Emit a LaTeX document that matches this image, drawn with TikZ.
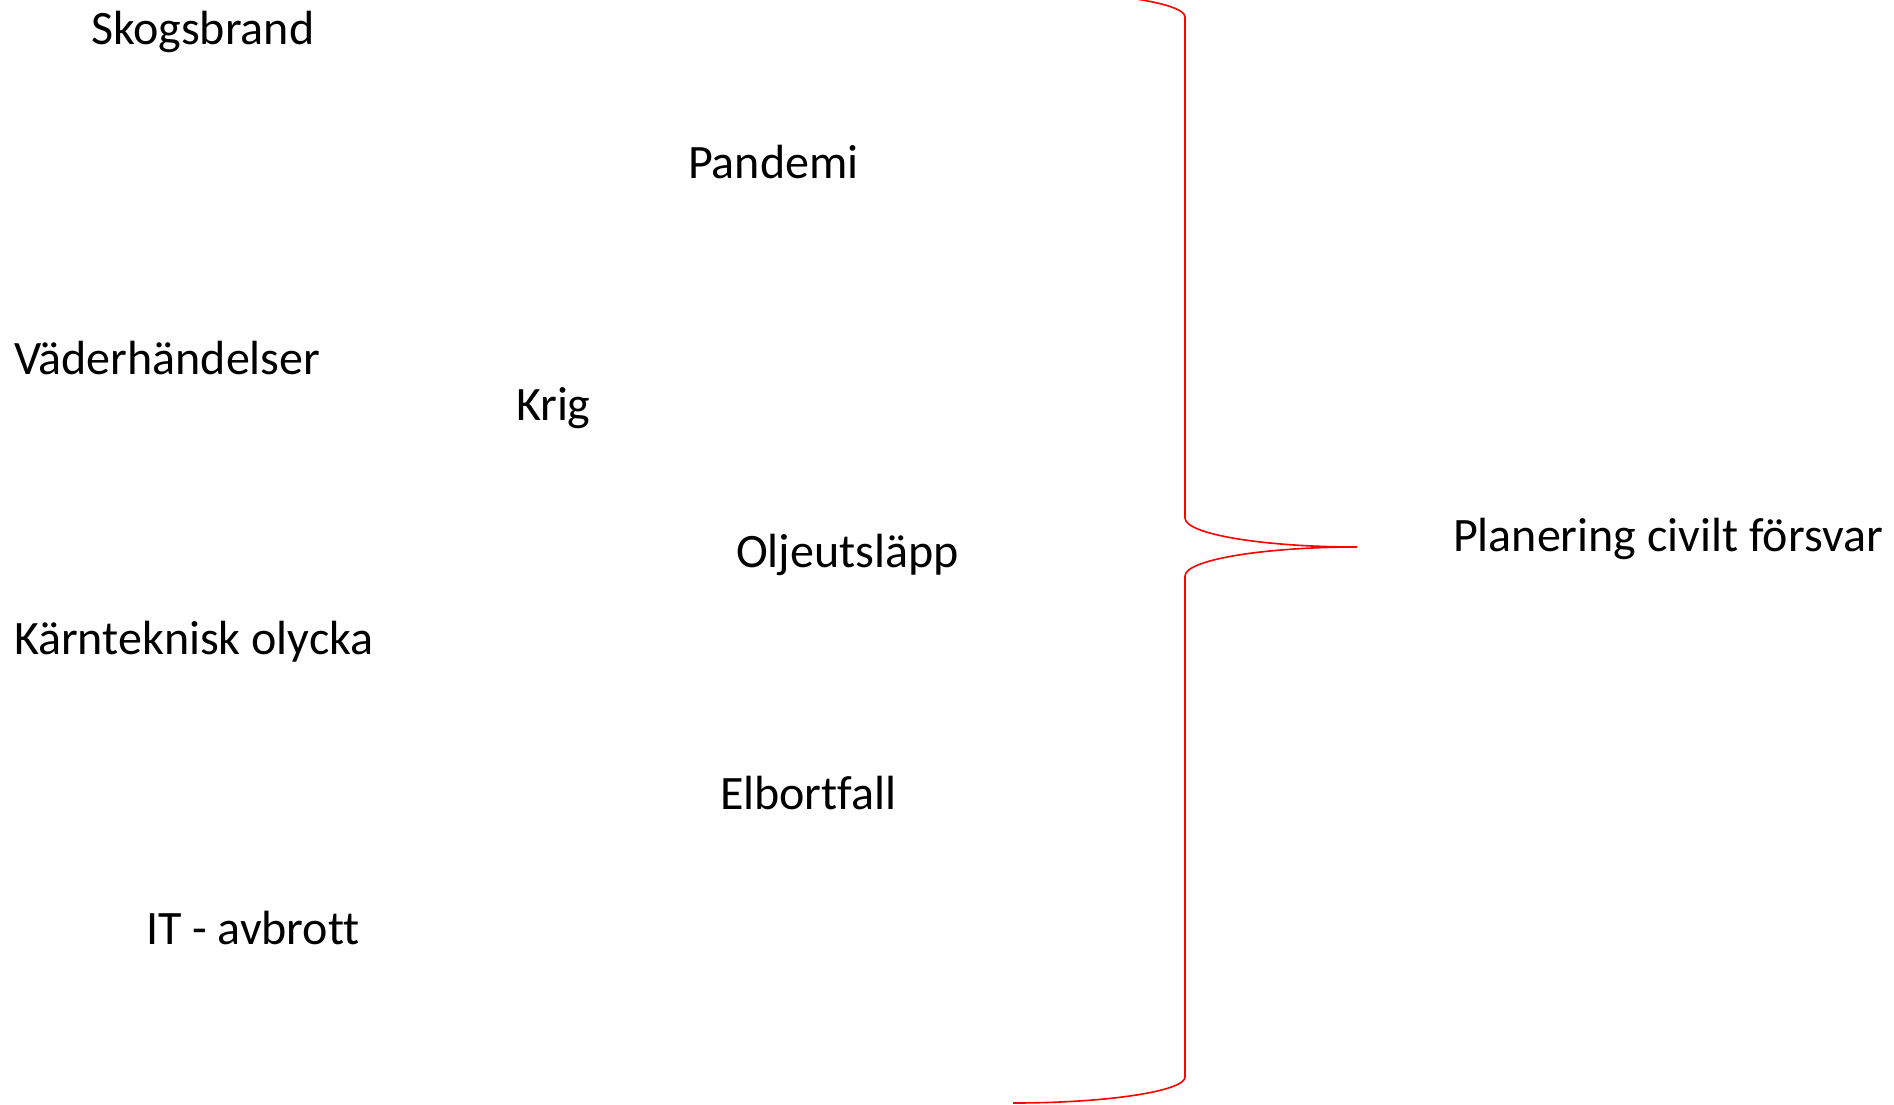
\documentclass[tikz,border=0pt]{standalone}
\usepackage{fontspec}
\setmainfont[Ligatures=NoCommon]{Carlito}
\begin{document}
\begin{tikzpicture}[x=1pt,y=-1pt,
  label/.style={anchor=base west,inner sep=0pt,outer sep=0pt,
    font=\fontsize{48}{58}\selectfont},
  brace/.style={draw=red,line width=1.6pt}]
\useasboundingbox (0,0) rectangle (1894,1104);
% risk labels on the left
\node[label] (skog) at (91,44) {Skogsbrand};
\node[label] (pand) at (688,178) {Pandemi};
\node[label] (vader) at (14,374) {Väderhändelser};
\node[label] (krig) at (516,420) {Krig};
\node[label] (olja) at (736,567) {Oljeutsläpp};
\node[label] (karn) at (14,654) {Kärnteknisk olycka};
\node[label] (el) at (720,809) {Elbortfall};
\node[label] (it) at (146,944) {IT - avbrott};
% summary label
\node[label] (plan) at (1453,551) {Planering civilt försvar};
% curly brace gathering the risks
\coordinate (btop) at (1013,-9);
\coordinate (btip) at (1357,547);
\coordinate (bbot) at (1013,1103);
\draw[brace] (btop) .. controls (1108,-9) and (1185,3) .. (1185,17)
  -- (1185,518) .. controls (1185,534) and (1262,547) .. (btip)
  .. controls (1262,547) and (1185,560) .. (1185,576)
  -- (1185,1077) .. controls (1185,1091) and (1108,1103) .. (bbot);
\end{tikzpicture}
\end{document}
